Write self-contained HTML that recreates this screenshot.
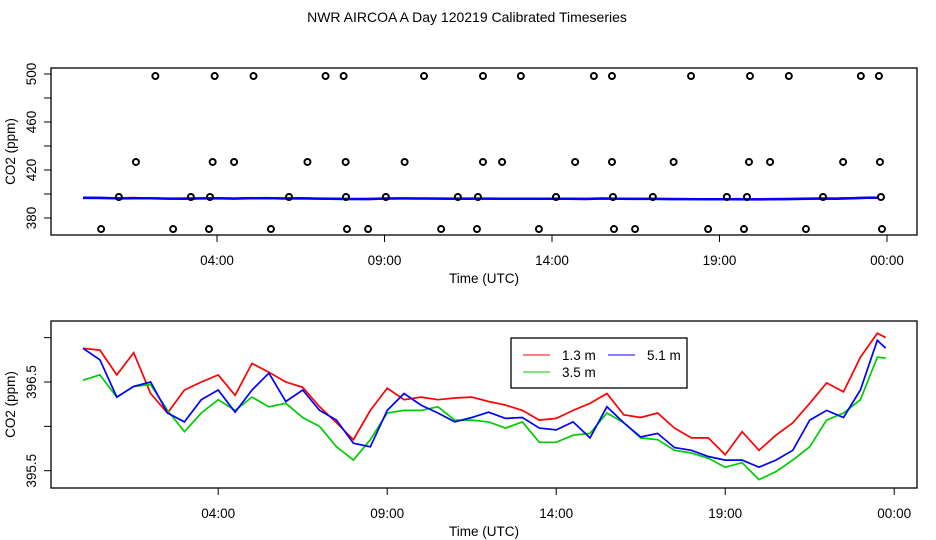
<!DOCTYPE html>
<html><head><meta charset="utf-8"><style>
body{margin:0;background:#fff}
svg{display:block;font-family:"Liberation Sans",sans-serif}
</style></head><body>
<svg id="c" width="936" height="540" xmlns="http://www.w3.org/2000/svg"></svg>
<script>
const hours = [0,0.5,1,1.5,2,2.5,3,3.5,4,4.5,5,5.5,6,6.5,7,7.5,8,8.5,9,9.5,10,10.5,11,11.5,12,12.5,13,13.5,14,14.5,15,15.5,16,16.5,17,17.5,18,18.5,19,19.5,20,20.5,21,21.5,22,22.5,23,23.5,23.75];
const red = [396.88,396.86,396.58,396.83,396.37,396.15,396.41,396.5,396.58,396.35,396.71,396.61,396.5,396.44,396.22,396.04,395.85,396.18,396.43,396.3,396.33,396.3,396.32,396.33,396.28,396.24,396.18,396.07,396.09,396.18,396.26,396.37,396.13,396.1,396.15,395.98,395.87,395.87,395.68,395.94,395.73,395.9,396.04,396.26,396.49,396.39,396.78,397.05,397.0];
const green = [396.52,396.58,396.33,396.45,396.47,396.18,395.94,396.15,396.3,396.18,396.33,396.22,396.26,396.1,396.0,395.77,395.62,395.85,396.15,396.18,396.18,396.22,396.07,396.07,396.05,395.98,396.05,395.82,395.82,395.9,395.92,396.15,396.04,395.87,395.85,395.73,395.7,395.64,395.54,395.59,395.4,395.49,395.62,395.77,396.07,396.15,396.3,396.78,396.77];
const blue = [396.88,396.75,396.33,396.45,396.5,396.15,396.05,396.3,396.41,396.16,396.41,396.6,396.28,396.41,396.18,396.07,395.81,395.77,396.18,396.37,396.24,396.15,396.05,396.1,396.16,396.09,396.1,395.98,395.96,396.05,395.87,396.22,396.04,395.88,395.92,395.76,395.73,395.66,395.62,395.62,395.54,395.62,395.73,396.07,396.18,396.1,396.41,396.97,396.88];
const outlierHours = [2.16,3.93,5.09,7.24,7.78,10.18,11.94,13.07,15.25,15.79,18.15,19.91,21.07,23.22,23.76,
 1.58,3.87,4.51,6.70,7.84,9.60,11.94,12.51,14.69,15.79,17.63,19.88,20.51,22.69,23.79,
 1.07,3.22,3.79,6.15,7.85,9.04,11.19,11.79,14.12,15.82,17.01,19.22,19.82,22.09,23.82,
 0.54,2.69,3.76,5.61,7.88,8.51,10.69,11.76,13.61,15.85,16.48,18.66,19.73,21.58,23.85];
const outlierValues = [498.3,498.3,498.3,498.3,498.3,498.3,498.3,498.3,498.3,498.3,498.3,498.3,498.3,498.3,498.3,
 426.7,426.7,426.7,426.7,426.7,426.7,426.7,426.7,426.7,426.7,426.7,426.7,426.7,426.7,426.7,
 397.5,397.5,397.5,397.5,397.5,397.5,397.5,397.5,397.5,397.5,397.5,397.5,397.5,397.5,397.5,
 370.8,370.8,370.8,370.8,370.8,370.8,370.8,370.8,370.8,370.8,370.8,370.8,370.8,370.8,370.8];
const xTickHours = [4,9,14,19,24];
const xTickLabels = ["04:00","09:00","14:00","19:00","00:00"];
const topYTicks = [380,400,420,440,460,480,500];
const topYLabels = ["380","","420","","460","","500"];
const botYTicks = [395.5,396,396.5,397];
const botYLabels = ["395.5","","396.5",""];
const seriesNames = ["1.3 m","3.5 m","5.1 m"];

const NS="http://www.w3.org/2000/svg";
const svg=document.getElementById('c');
const FS=13.5;
function mk(tag,attrs,parent){const e=document.createElementNS(NS,tag);for(const k in attrs)e.setAttribute(k,attrs[k]);(parent||svg).appendChild(e);return e;}
const xTop=h=>83+33.5*h;
const yTop=v=>74+(500-v)*1.2;
const xBot=h=>83+33.8*h;
const yBot=v=>382-(v-396.5)*88.7;

let t=mk('text',{x:467,y:22,'text-anchor':'middle','font-size':14});

t.textContent="NWR AIRCOA A  Day 120219  Calibrated Timeseries";

function panel(name,box,xf,yf,yt,yl,ylab){
  const g=mk('g',{});
  
  const [x0,y0,x1,y1]=box;
  let r=mk('rect',{x:x0,y:y0,width:x1-x0,height:y1-y0,fill:'none',stroke:'#000','stroke-width':1.3},g);
  
  const xa=mk('g',{},g);
  xTickHours.forEach((h,i)=>{const x=xf(h);
    mk('line',{x1:x,x2:x,y1:y1,y2:y1+7,stroke:'#000'},xa);
    const tx=mk('text',{x:x,y:y1+30,'text-anchor':'middle','font-size':FS},xa);
    
    tx.textContent=xTickLabels[i];});
  const xt=mk('text',{x:484,y:y1+48,'text-anchor':'middle','font-size':FS},g);
  
  xt.textContent="Time (UTC)";
  const ya=mk('g',{},g);
  yt.forEach((v,i)=>{const y=yf(v);
    mk('line',{x1:x0-7,x2:x0,y1:y,y2:y,stroke:'#000'},ya);
    if(yl[i]){const lx=x0-15;const tx=mk('text',{x:lx,y:y,'text-anchor':'middle','font-size':FS,transform:`rotate(-90 ${lx} ${y})`},ya);
      
      tx.textContent=yl[i];}});
  const yy=(y0+y1)/2;
  const ytl=mk('text',{x:15,y:yy,'text-anchor':'middle','font-size':FS,transform:`rotate(-90 15 ${yy})`},g);
  
  ytl.textContent=ylab;
  return g;
}
function line(g,vals,xf,yf,color,name,w){
  const p=mk('polyline',{points:vals.map((v,i)=>xf(hours[i]).toFixed(1)+','+yf(v).toFixed(1)).join(' '),fill:'none',stroke:color,'stroke-width':w},g);
  
}
const g1=panel('top-panel',[51,68,917,235],xTop,yTop,topYTicks,topYLabels,"CO2 (ppm)");
line(g1,red,xTop,yTop,'#f00','top-line-1-3m',2);
line(g1,green,xTop,yTop,'#0c0','top-line-3-5m',2);
line(g1,blue,xTop,yTop,'#00f','top-line-5-1m',2.5);
outlierHours.forEach((h,i)=>{
  const c=mk('circle',{cx:xTop(h),cy:yTop(outlierValues[i]),r:3,fill:'none',stroke:'#000','stroke-width':2},g1);
  
});
const g2=panel('bottom-panel',[51,321,917,488],xBot,yBot,botYTicks,botYLabels,"CO2 (ppm)");
line(g2,red,xBot,yBot,'#f00','line-1-3m',1.7);
line(g2,green,xBot,yBot,'#0c0','line-3-5m',1.7);
line(g2,blue,xBot,yBot,'#00f','line-5-1m',1.7);

const lg=mk('g',{});
mk('rect',{x:511,y:338,width:176,height:50,fill:'#fff',stroke:'#000','stroke-width':1.3},lg);
const entries=[[seriesNames[0],'#f00',523,355,556],[seriesNames[2],'#00f',608,355,641],[seriesNames[1],'#0c0',523,372,556]];
entries.forEach(e=>{
  const eg=mk('g',{},lg);
  mk('line',{x1:e[2],x2:e[2]+27,y1:e[3],y2:e[3],stroke:e[1],'stroke-width':1},eg);
  const tx=mk('text',{x:e[4]+6,y:e[3]+5,'font-size':FS},eg);tx.textContent=e[0];
});
</script>
</body></html>
